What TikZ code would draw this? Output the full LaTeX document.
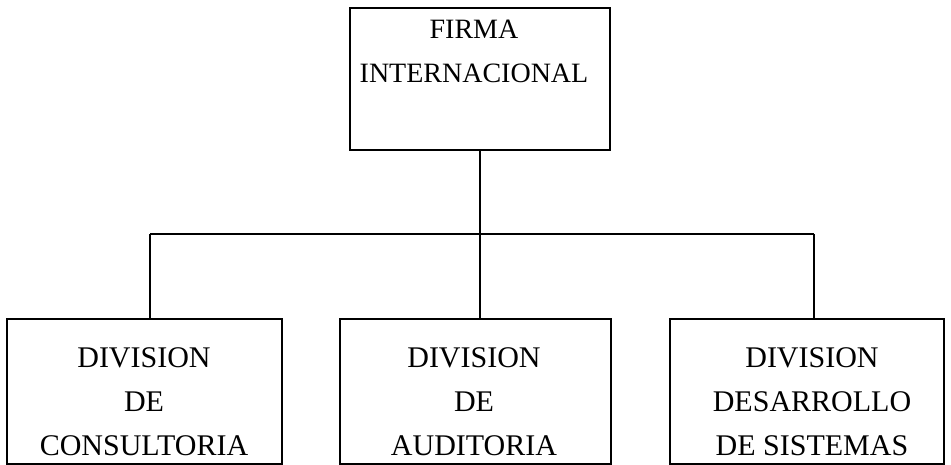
\documentclass[tikz,border=0pt]{standalone}
\usepackage{fontspec}
\setmainfont{Liberation Serif}
\begin{document}
\begin{tikzpicture}[x=1pt,y=-1pt]
        \tikzset{box/.style={draw,line width=1.8pt,inner sep=0pt},
            lowbox/.style={box,minimum height=145pt},
            caption/.style={align=center,anchor=base,inner sep=0pt,
                font=\fontsize{30}{44}\selectfont},
            link/.style={draw,line width=1.8pt}}
        \useasboundingbox (0,0) rectangle (951,465);
        % boxes
        \node[box,minimum width=260pt,minimum height=142pt] (firma) at (480,79) {};
        \node[lowbox,minimum width=275pt] (consul) at (144.5,391.5) {};
        \node[lowbox,minimum width=271pt] (audit) at (475.5,391.5) {};
        \node[lowbox,minimum width=274pt] (sist) at (807,391.5) {};
        % texts (base = last line)
        \node[caption,font=\fontsize{28}{44}\selectfont] (firmatxt) at (474,83) {FIRMA\\INTERNACIONAL};
        \node[caption] (consultxt) at (144,455) {DIVISION\\DE\\CONSULTORIA};
        \node[caption] (audittxt) at (474,455) {DIVISION\\DE\\AUDITORIA};
        \node[caption] (sisttxt) at (812,455) {DIVISION\\DESARROLLO\\DE SISTEMAS};
        % connectors
        \coordinate (bus) at (480,234);
        \coordinate (busl) at (150,234);
        \coordinate (busr) at (814,234);
        \draw[link] (firma.south) -- (bus);
        \draw[link] (busl) -- (busr);
        \draw[link] (busl) -- (busl |- consul.north);
        \draw[link] (bus) -- (bus |- audit.north);
        \draw[link] (busr) -- (busr |- sist.north);
    \end{tikzpicture}
\end{document}
